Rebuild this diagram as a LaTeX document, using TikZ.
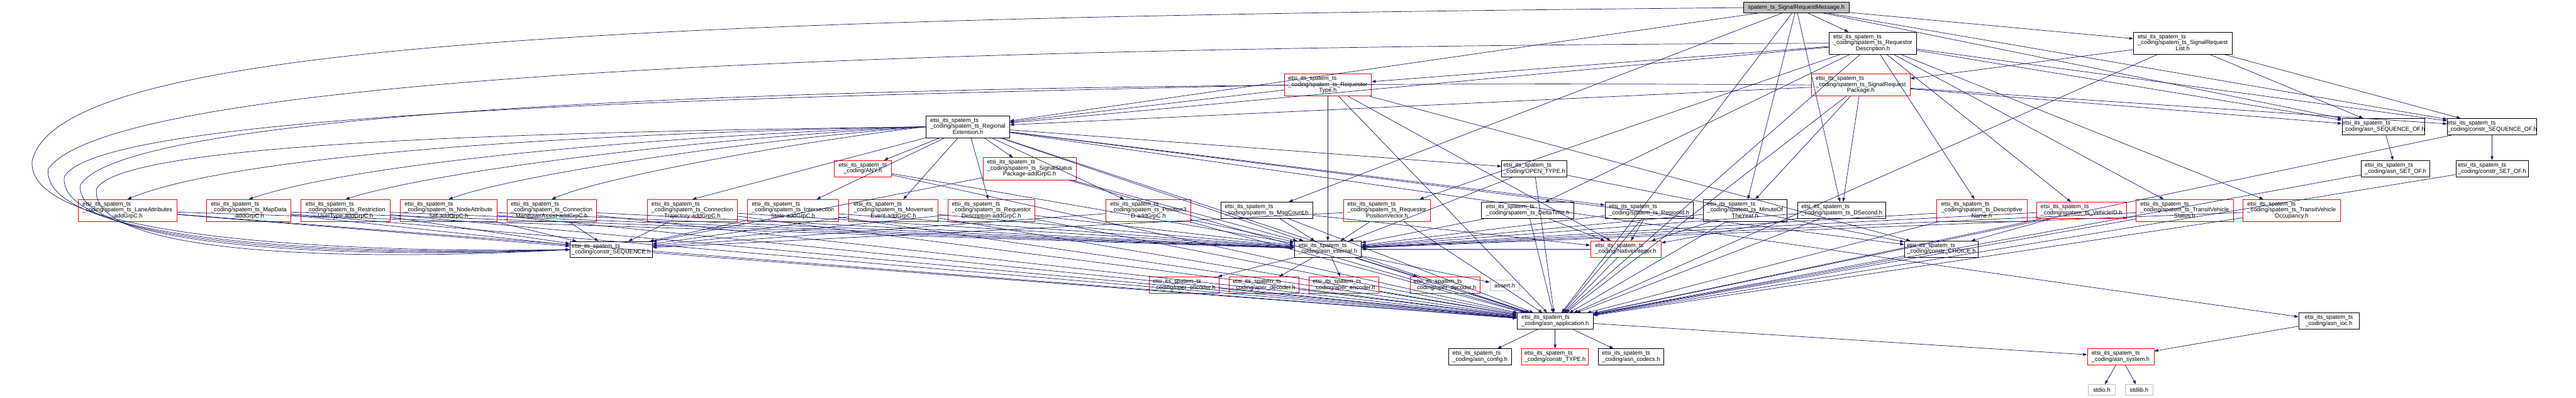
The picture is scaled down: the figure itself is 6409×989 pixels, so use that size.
\documentclass[tikz,border=0pt]{standalone}
\usepackage{fontspec}
\setmainfont{Liberation Sans}
\usetikzlibrary{arrows.meta}
\definecolor{edgec}{HTML}{191970}
\definecolor{grayc}{HTML}{BFBFBF}
\newcommand{\pf}{etsi\_its\_spatem\_ts}
\newcommand{\tA}[2]{\begin{tabular}{@{}l@{}}\pf\\\_coding/spatem\_ts\_#1\\\multicolumn{1}{@{}c@{}}{#2}\end{tabular}}
\newcommand{\tB}[1]{\begin{tabular}{@{}l@{}}\pf\\\multicolumn{1}{@{}c@{}}{\_coding/#1}\end{tabular}}
\renewcommand{\arraystretch}{1}
\begin{document}
\begin{tikzpicture}[x=1pt,y=-1pt,font=\fontsize{14.5}{14.5}\selectfont,
  box/.style={draw=black,line width=1.2pt,fill=white,inner sep=0pt,align=center},
  rbox/.style={box,draw=red},
  gbox/.style={box,draw=grayc},
  ed/.style={draw=edgec,line width=1.1pt,-{Triangle[length=10pt,width=7pt]}}]
\useasboundingbox (0,0) rectangle (6409,989);
% ---- nodes
\node[box,fill=grayc,minimum width=262,minimum height=26] (top) at (4469,19) {spatem\_ts\_SignalRequestMessage.h};
\node[box,minimum width=217,minimum height=55] (rd) at (4659.5,107.5) {\tA{Requestor}{Description.h}};
\node[box,minimum width=245,minimum height=55] (srl) at (5430.5,107.5) {\tA{SignalRequest}{List.h}};
\node[rbox,minimum width=217,minimum height=55] (rt) at (3303.5,211.5) {\tA{Requestor}{Type.h}};
\node[rbox,minimum width=245,minimum height=55] (srp) at (4629.5,211.5) {\tA{SignalRequest}{Package.h}};
\node[box,minimum width=208,minimum height=55] (re) at (2408,315.5) {\tA{Regional}{Extension.h}};
\node[rbox,minimum width=143,minimum height=41] (any) at (2146.5,419.5) {\tB{ANY.h}};
\node[rbox,minimum width=231,minimum height=55] (ssp) at (2561.5,420) {\tA{SignalStatus}{Package-addGrpC.h}};
\node[box,minimum width=162,minimum height=41] (open) at (3817,420) {\tB{OPEN\_TYPE.h}};
\node[rbox,minimum width=246,minimum height=55] (lane) at (317,524) {\tA{LaneAttributes}{-addGrpC.h}};
\node[rbox,minimum width=210,minimum height=55] (map) at (619,524) {\tA{MapData}{-addGrpC.h}};
\node[rbox,minimum width=221,minimum height=55] (rut) at (859.5,524) {\tA{Restriction}{UserType-addGrpC.h}};
\node[rbox,minimum width=242,minimum height=55] (nas) at (1116,524) {\tA{NodeAttribute}{Set-addGrpC.h}};
\node[rbox,minimum width=223,minimum height=55] (cma) at (1372.5,524) {\tA{Connection}{ManeuverAssist-addGrpC.h}};
\node[rbox,minimum width=223,minimum height=55] (ctr) at (1722.5,524) {\tA{Connection}{Trajectory-addGrpC.h}};
\node[rbox,minimum width=228,minimum height=55] (ist) at (1973,524) {\tA{Intersection}{State-addGrpC.h}};
\node[rbox,minimum width=221,minimum height=55] (mev) at (2222.5,524) {\tA{Movement}{Event-addGrpC.h}};
\node[rbox,minimum width=217,minimum height=55] (rda) at (2466.5,524) {\tA{Requestor}{Description-addGrpC.h}};
\node[rbox,minimum width=210,minimum height=55] (p3d) at (2857,524) {\tA{Position3}{D-addGrpC.h}};
\node[box,minimum width=229,minimum height=41] (msg) at (3151.5,523.5) {\tB{spatem\_ts\_MsgCount.h}};
\node[rbox,minimum width=217,minimum height=55] (rpv) at (3450.5,524) {\tA{Requestor}{PositionVector.h}};
\node[box,minimum width=230,minimum height=41] (dt) at (3801,523.5) {\tB{spatem\_ts\_DeltaTime.h}};
\node[box,minimum width=220,minimum height=41] (rid) at (4103,523.5) {\tB{spatem\_ts\_RegionId.h}};
\node[box,minimum width=209,minimum height=55] (moy) at (4341.5,524) {\tA{MinuteOf}{TheYear.h}};
\node[box,minimum width=219,minimum height=41] (dsec) at (4582.5,523.5) {\tB{spatem\_ts\_DSecond.h}};
\node[rbox,minimum width=225,minimum height=55] (dn) at (4930.5,524) {\tA{Descriptive}{Name.h}};
\node[rbox,minimum width=223,minimum height=41] (vid) at (5178.5,523.5) {\tB{spatem\_ts\_VehicleID.h}};
\node[rbox,minimum width=241,minimum height=55] (tvs) at (5435.5,524) {\tA{TransitVehicle}{Status.h}};
\node[rbox,minimum width=241,minimum height=55] (tvo) at (5701.5,524) {\tA{TransitVehicle}{Occupancy.h}};
\node[box,minimum width=205,minimum height=40] (cseq) at (1520.5,621) {\tB{constr\_SEQUENCE.h}};
\node[box,minimum width=167,minimum height=40] (ain) at (3303.5,620) {\tB{asn\_internal.h}};
\node[rbox,minimum width=176,minimum height=40] (nint) at (4045,620) {\tB{NativeInteger.h}};
\node[box,minimum width=184,minimum height=40] (cch) at (4830,620) {\tB{constr\_CHOICE.h}};
\node[rbox,minimum width=174,minimum height=41] (upe) at (2946,709.5) {\tB{uper\_encoder.h}};
\node[rbox,minimum width=174,minimum height=41] (apd) at (3145,709.5) {\tB{aper\_decoder.h}};
\node[rbox,minimum width=174,minimum height=41] (ape) at (3344,709.5) {\tB{aper\_encoder.h}};
\node[rbox,minimum width=174,minimum height=41] (upd) at (3595,709.5) {\tB{uper\_decoder.h}};
\node[gbox,minimum width=73,minimum height=26] (ass) at (3743.5,710) {assert.h};
\node[box,minimum width=190,minimum height=40] (app) at (3869,799) {\tB{asn\_application.h}};
\node[box,minimum width=150,minimum height=40] (ioc) at (5794,799) {\tB{asn\_ioc.h}};
\node[box,minimum width=156,minimum height=40] (cfg) at (3682,888) {\tB{asn\_config.h}};
\node[rbox,minimum width=166,minimum height=40] (cty) at (3869,888) {\tB{constr\_TYPE.h}};
\node[box,minimum width=162,minimum height=40] (cod) at (4058,888) {\tB{asn\_codecs.h}};
\node[rbox,minimum width=166,minimum height=40] (sys) at (5276,888) {\tB{asn\_system.h}};
\node[gbox,minimum width=66,minimum height=26] (stdio) at (5229,970) {stdio.h};
\node[gbox,minimum width=70,minimum height=26] (stdlib) at (5322,970) {stdlib.h};
\node[box,minimum width=200,minimum height=41] (aso) at (5930,315.5) {\tB{asn\_SEQUENCE\_OF.h}};
\node[box,minimum width=220,minimum height=41] (cso) at (6200,315.5) {\tB{constr\_SEQUENCE\_OF.h}};
\node[box,minimum width=180,minimum height=41] (cst) at (6200,420) {\tB{constr\_SET\_OF.h}};
\node[box,minimum width=170,minimum height=41] (ast) at (5960,420) {\tB{asn\_SET\_OF.h}};
% ---- edges
\foreach \a/\b in {top/rd,top/srl,top/re,top/msg,top/moy,top/dsec,top/app,top/aso,top/cso,
  rd/rt,rd/re,rd/vid,rd/dn,rd/tvs,rd/tvo,rd/rpv,rd/dt,rd/app,rd/aso,rd/cso,
  rt/re,rt/ain,rt/app,rt/cch,rt/nint,
  srl/srp,srl/app,srl/aso,srl/cso,
  srp/re,srp/moy,srp/dsec,srp/app,srp/aso,srp/cso,
  re/any,re/ssp,re/open,re/rid,re/cch,re/app,re/ain,re/ioc,re/rda,re/mev,re/ist,re/p3d,
  lane/cseq,map/cseq,rut/cseq,nas/cseq,cma/cseq,ctr/cseq,ist/cseq,mev/cseq,rda/cseq,p3d/cseq,ssp/cseq,
  lane/app,map/app,rut/app,nas/app,cma/app,ctr/app,ist/app,mev/app,rda/app,p3d/app,ssp/app,
  lane/ain,map/ain,rut/ain,nas/ain,cma/ain,ctr/ain,ist/ain,mev/ain,rda/ain,p3d/ain,ssp/ain,
  msg/nint,dt/nint,rid/nint,moy/nint,dsec/nint,msg/app,dt/app,rid/app,moy/app,dsec/app,
  msg/ain,dt/ain,rid/ain,moy/ain,dsec/ain,
  rpv/ain,rpv/app,rpv/cseq,dn/app,dn/ain,vid/cch,vid/app,vid/ain,tvs/app,tvs/ain,tvo/app,tvo/ain,
  any/app,any/ain,open/cch,open/app,open/ain,cseq/app,cch/app,nint/app,nint/ain,
  ain/upe,ain/apd,ain/ape,ain/upd,ain/ass,ain/app,upe/app,apd/app,ape/app,upd/app,
  app/cfg,app/cty,app/cod,app/sys,ioc/sys,aso/ast,cso/cst,cso/app,cst/app,ast/app,
  sys/stdio,sys/stdlib}
  \draw[ed] (\a) -- (\b);
% RegionalExtension to the left-hand addGrpC nodes
\draw[ed] (re.west) .. controls (1500,330) and (600,380) .. (lane.north);
\draw[ed] (re.west) .. controls (1700,335) and (900,400) .. (map.north);
\draw[ed] (re.west) .. controls (1800,340) and (1100,420) .. (rut.north);
\draw[ed] (re.west) .. controls (1900,345) and (1300,430) .. (nas.north);
\draw[ed] (re.west) .. controls (2000,350) and (1500,440) .. (cma.north);
\draw[ed] (re) -- (ctr.north);
% long detours round the left side
\draw[ed] (top.west) .. controls (1500,45) and (150,110) .. (80,400) .. controls (60,600) and (900,630) .. (cseq.west);
\draw[ed] (rd.west) .. controls (2500,115) and (300,170) .. (120,420) .. controls (100,610) and (900,635) .. (cseq.west);
\draw[ed] (rt.west) .. controls (2000,240) and (250,270) .. (160,440) .. controls (140,615) and (900,640) .. (cseq.west);
\draw[ed] (srp.west) .. controls (3000,200) and (350,220) .. (200,460) .. controls (180,620) and (900,645) .. (cseq.west);
\draw[ed] (re.west) .. controls (1200,330) and (300,360) .. (240,470) .. controls (220,640) and (900,650) .. (cseq.west);
\end{tikzpicture}
\end{document}
